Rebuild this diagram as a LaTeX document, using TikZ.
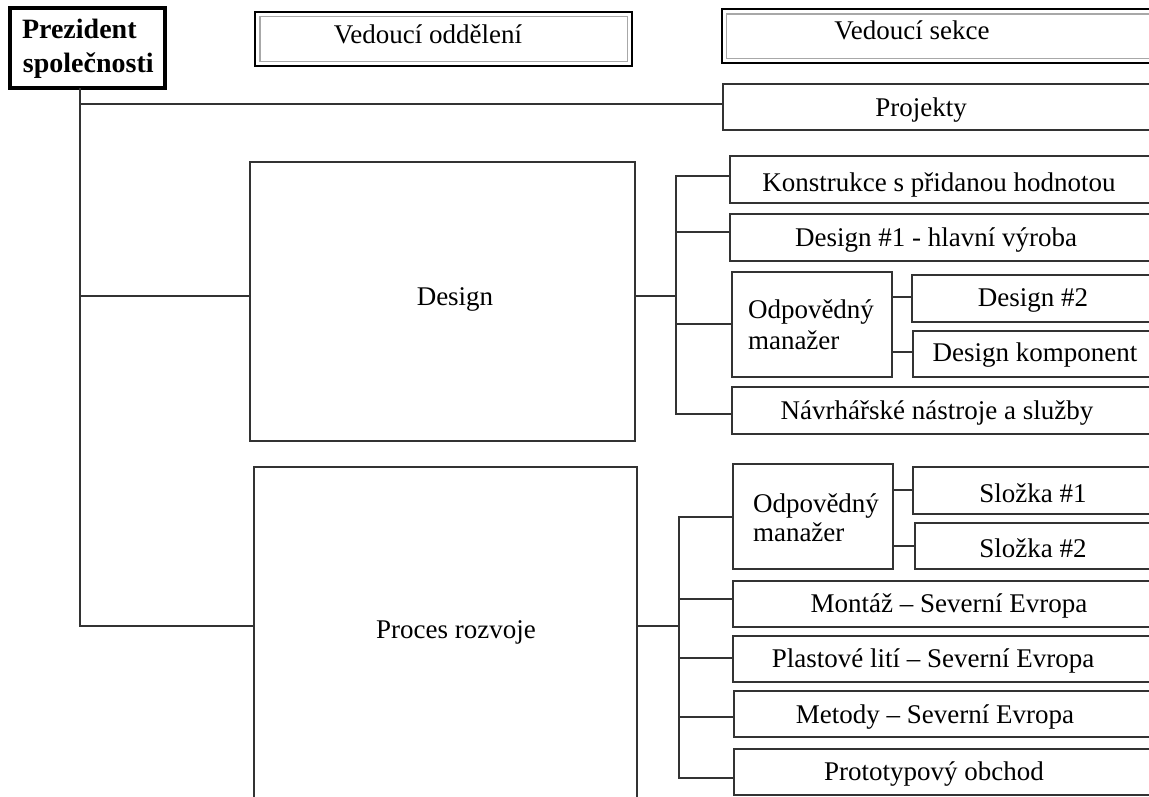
\documentclass[tikz,border=0pt]{standalone}
\usepackage{fontspec}
\setmainfont{Liberation Serif}
\begin{document}
\begin{tikzpicture}[x=1pt,y=-1pt,
  every node/.style={inner sep=0pt, outer sep=0pt},
  box/.style={draw=linec, line width=1.7pt, rectangle, anchor=north west},
  conn/.style={draw=linec, line width=1.6pt},
  lbl/.style={font=\fontsize{27}{30}\selectfont, anchor=base},
  lblL/.style={font=\fontsize{27}{30}\selectfont, anchor=base west},
  lblB/.style={font=\fontsize{28}{30}\selectfont\bfseries, anchor=base west}]
\definecolor{linec}{HTML}{333333}
\definecolor{innerc}{HTML}{A8A8A8}
\useasboundingbox[fill=white] (0,0) rectangle (1149,796);

% --- header boxes -------------------------------------------------
\node[draw=black, line width=3.5pt, minimum width=155pt, minimum height=80pt, anchor=north west] (pres) at (10,8) {};
\node[lblB] (presA) at (22,38) {Prezident};
\node[lblB] (presB) at (23,72) {společnosti};

\node[box, draw=black, line width=1.8pt, minimum width=377pt, minimum height=54pt] (vod) at (255,12) {};
\draw[innerc, line width=1.6pt] (260,16.5) rectangle (627.5,61.5);
\node[lbl] (vodT) at (428,43) {Vedoucí oddělení};

\node[box, draw=black, line width=1.8pt, minimum width=480pt, minimum height=54pt] (vsek) at (722,9) {};
\draw[innerc, line width=1.6pt] (726.5,14) rectangle (1210,58.5);
\node[lbl] (vsekT) at (912,39) {Vedoucí sekce};

% --- first level --------------------------------------------------
\node[box, minimum width=480pt, minimum height=46pt] (proj) at (723,84) {};
\node[lbl] (projT) at (921,116) {Projekty};

\node[box, minimum width=385pt, minimum height=279pt] (design) at (250,162) {};
\node[lbl] (designT) at (455,305) {Design};

\node[box, minimum width=383pt, minimum height=433pt] (proc) at (254,467) {};
\node[lbl] (procT) at (456,638) {Proces rozvoje};

% --- design branch ------------------------------------------------
\node[box, minimum width=480pt, minimum height=47pt] (konstr) at (730,156) {};
\node[lbl] (konstrT) at (939,191) {Konstrukce s přidanou hodnotou};
\node[box, minimum width=480pt, minimum height=47pt] (d1) at (730,214) {};
\node[lbl] (d1T) at (936,246) {Design \#1 - hlavní výroba};
\node[box, minimum width=160pt, minimum height=105pt] (om1) at (732,272) {};
\node[lblL] (om1A) at (748,318) {Odpovědný};
\node[lblL] (om1B) at (748,349) {manažer};
\node[box, minimum width=300pt, minimum height=47pt] (d2) at (912,275) {};
\node[lbl] (d2T) at (1033,306) {Design \#2};
\node[box, minimum width=300pt, minimum height=46pt] (dk) at (913,331) {};
\node[lbl] (dkT) at (1035,361) {Design komponent};
\node[box, minimum width=480pt, minimum height=47pt] (navrh) at (732,387) {};
\node[lbl] (navrhT) at (937,419) {Návrhářské nástroje a služby};

% --- process branch -----------------------------------------------
\node[box, minimum width=160pt, minimum height=105pt] (om2) at (733,464) {};
\node[lblL] (om2A) at (753,512) {Odpovědný};
\node[lblL] (om2B) at (753,541) {manažer};
\node[box, minimum width=300pt, minimum height=47pt] (s1) at (913,467) {};
\node[lbl] (s1T) at (1033,502) {Složka \#1};
\node[box, minimum width=300pt, minimum height=46pt] (s2) at (915,523) {};
\node[lbl] (s2T) at (1033,557) {Složka \#2};
\node[box, minimum width=480pt, minimum height=46pt] (montaz) at (733,581) {};
\node[lbl] (montazT) at (949,612) {Montáž – Severní Evropa};
\node[box, minimum width=480pt, minimum height=46pt] (plast) at (733,636) {};
\node[lbl] (plastT) at (933,667) {Plastové lití – Severní Evropa};
\node[box, minimum width=480pt, minimum height=46pt] (metody) at (734,691) {};
\node[lbl] (metodyT) at (935,723) {Metody – Severní Evropa};
\node[box, minimum width=480pt, minimum height=46pt] (proto) at (734,749) {};
\node[lbl] (protoT) at (934,780) {Prototypový obchod};

% --- connectors ---------------------------------------------------
\coordinate (trunk) at (pres.south -| 80,0);
\draw[conn] (trunk) |- (proj.west |- 0,104);
\draw[conn] (trunk) |- (design.west |- 0,296);
\draw[conn] (trunk) |- (proc.west |- 0,626);

\coordinate (dj) at (676,296);
\draw[conn] (design.east |- dj) -- (dj);
\draw[conn] (konstr.west |- 0,176) -| (dj) |- (navrh.west |- 0,414);
\draw[conn] (dj |- 0,232) -- (d1.west |- 0,232);
\draw[conn] (dj |- 0,324) -- (om1.west |- 0,324);
\draw[conn] (om1.east |- 0,297) -- (d2.west |- 0,297);
\draw[conn] (om1.east |- 0,352) -- (dk.west |- 0,352);

\coordinate (pj) at (679,626);
\draw[conn] (proc.east |- pj) -- (pj);
\draw[conn] (om2.west |- 0,517) -| (pj) |- (proto.west |- 0,778);
\draw[conn] (pj |- 0,599) -- (montaz.west |- 0,599);
\draw[conn] (pj |- 0,658) -- (plast.west |- 0,658);
\draw[conn] (pj |- 0,717) -- (metody.west |- 0,717);
\draw[conn] (om2.east |- 0,490) -- (s1.west |- 0,490);
\draw[conn] (om2.east |- 0,546) -- (s2.west |- 0,546);
\end{tikzpicture}
\end{document}
